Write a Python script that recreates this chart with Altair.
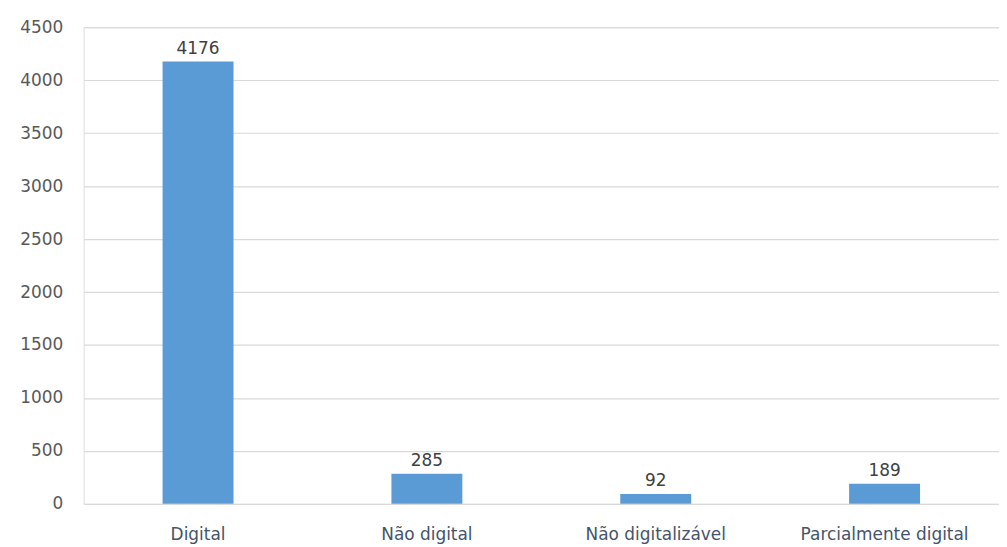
import altair as alt
import pandas as pd

categories = ["Digital", "Não digital", "Não digitalizável", "Parcialmente digital"]
values = [4176, 285, 92, 189]

df = pd.DataFrame({"cat": categories, "val": values})

FONT = "DejaVu Sans"

base = alt.Chart(df).encode(
    x=alt.X("cat:N", sort=categories, title=None,
            scale=alt.Scale(paddingInner=0.69, paddingOuter=0.345),
            axis=alt.Axis(labelAngle=0, labelColor="#44546a", labelFontSize=17,
                          labelFont=FONT, ticks=False, domain=False,
                          labelPadding=23, grid=False)),
    y=alt.Y("val:Q", title=None,
            scale=alt.Scale(domain=[0, 4500], nice=False),
            axis=alt.Axis(values=list(range(0, 4501, 500)), format="d",
                          labelColor="#595959", labelFontSize=17, labelFont=FONT,
                          ticks=False, domain=False, labelPadding=21,
                          gridColor="#d9d9d9", gridWidth=1.2)),
)

bars = base.mark_bar(color="#5b9bd5")
labels = base.mark_text(dy=-13, fontSize=17, font=FONT, color="#404040").encode(
    text="val:Q")

chart = (bars + labels).properties(
    width=920, height=479,
    autosize=alt.AutoSizeParams(type="none"),
    padding={"left": 76, "top": 18, "right": 0, "bottom": 42},
).configure_view(stroke=None).configure(background="white")

chart.save("out.html", embed_options={"renderer": "svg", "actions": False})
